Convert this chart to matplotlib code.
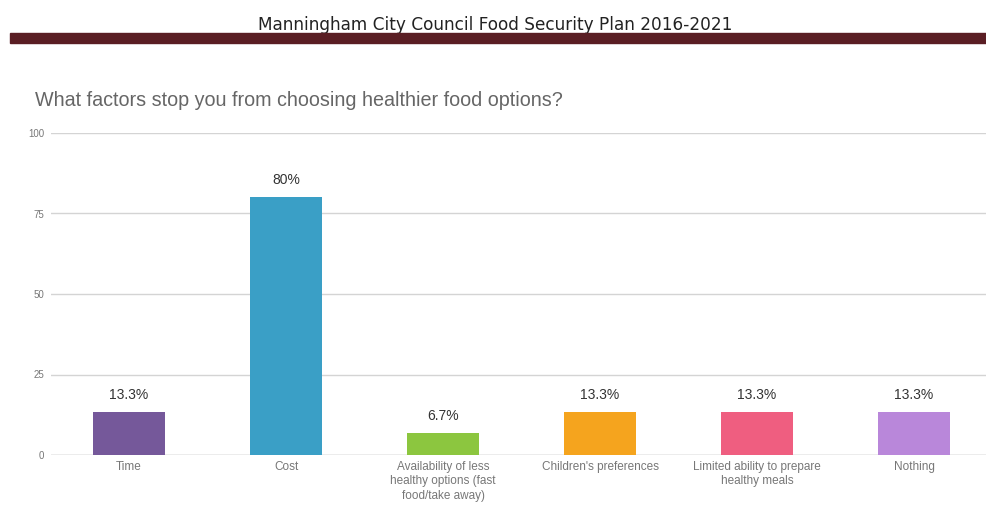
import matplotlib
matplotlib.use("Agg")
import matplotlib.pyplot as plt
from matplotlib.patches import Rectangle

# Survey results
categories = [
    "Time",
    "Cost",
    "Availability of less\nhealthy options (fast\nfood/take away)",
    "Children's preferences",
    "Limited ability to prepare\nhealthy meals",
    "Nothing",
]
values = [13.3, 80, 6.7, 13.3, 13.3, 13.3]
value_labels = ["13.3%", "80%", "6.7%", "13.3%", "13.3%", "13.3%"]
colors = ["#75589a", "#3a9fc6", "#8cc63f", "#f5a41e", "#ef5e80", "#b987da"]
y_ticks = [0, 25, 50, 75, 100]

header = "Manningham City Council Food Security Plan 2016-2021"
question = "What factors stop you from choosing healthier food options?"

W, H = 987, 505
fig = plt.figure(figsize=(W / 100, H / 100), dpi=100)
fig.patch.set_facecolor("white")

# Document header and maroon rule
fig.text(495 / W, 1 - 25 / H, header, ha="center", va="center",
         fontsize=12.2, color="#222222", family=["DejaVu Sans"])
fig.patches.append(Rectangle((10 / W, 1 - 43 / H), 1 - 10 / W, 10 / H,
                             transform=fig.transFigure, color="#5a1e24",
                             zorder=5))

fig.text(35 / W, 1 - 100 / H, question, ha="left", va="center",
         fontsize=14.2, color="#666666", family=["Liberation Sans", "DejaVu Sans"])

ax = fig.add_axes([51 / W, 1 - 455 / H, 1 - 51 / W, (455 - 133) / H])
x = list(range(len(categories)))
ax.bar(x, values, width=0.46, color=colors, zorder=3)

for xi, v, lab in zip(x, values, value_labels):
    ax.annotate(lab, (xi, v), xytext=(0, 12.2), textcoords="offset points",
                ha="center", va="center", fontsize=10, color="#333333",
                family=["Liberation Sans", "DejaVu Sans"])

ax.set_xlim(-0.497, 5.465)
ax.set_ylim(0, 100)
ax.set_yticks(y_ticks)
ax.set_yticklabels([str(t) for t in y_ticks], fontsize=7, color="#777777",
                   family=["Liberation Sans", "DejaVu Sans"])
ax.set_xticks(x)
ax.set_xticklabels(categories, fontsize=8.5, color="#777777",
                   family=["Liberation Sans", "DejaVu Sans"], linespacing=1.3)
ax.tick_params(axis="both", length=0)
ax.tick_params(axis="y", pad=5)
ax.tick_params(axis="x", pad=4)

ax.grid(axis="y", color="#d4d4d4", linewidth=1.0, zorder=0)
for s in ax.spines.values():
    s.set_visible(False)
ax.axhline(0, color="#c4c4c4", linewidth=1.0, zorder=2)

fig.savefig("out.png", dpi=100)
